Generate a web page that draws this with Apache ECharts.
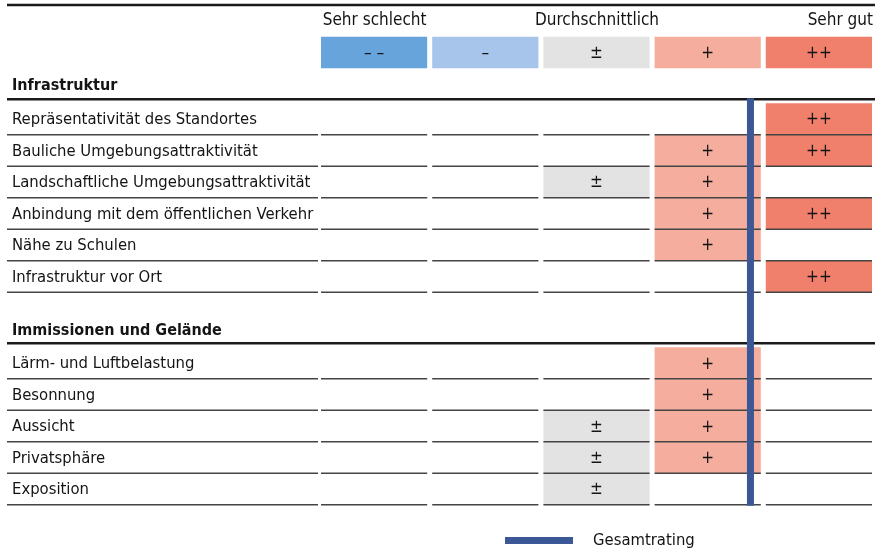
<!DOCTYPE html>
<html><head><meta charset="utf-8">
<script src="https://cdn.jsdelivr.net/npm/echarts@6/dist/echarts.min.js"></script>
<style>html,body{margin:0;padding:0;background:#fff}#c{width:875px;height:553px}</style>
</head><body><div id="c"></div>
<script>
// ---------- data ----------
const scaleTitles = ['Sehr schlecht', '', 'Durchschnittlich', '', 'Sehr gut'];
const scaleSymbols = ['– –', '–', '±', '+', '++'];
const groupTitles = ['Infrastruktur', 'Immissionen und Gelände'];
const infraCriteria = [
  'Repräsentativität des Standortes',
  'Bauliche Umgebungsattraktivität',
  'Landschaftliche Umgebungsattraktivität',
  'Anbindung mit dem öffentlichen Verkehr',
  'Nähe zu Schulen',
  'Infrastruktur vor Ort'
];
const infraRatings = [[5], [4, 5], [3, 4], [4, 5], [4], [5]];
const immiCriteria = [
  'Lärm- und Luftbelastung',
  'Besonnung',
  'Aussicht',
  'Privatsphäre',
  'Exposition'
];
const immiRatings = [[4], [4], [3, 4], [3, 4], [3]];
const overallRating = 4.38;
const legendLabel = 'Gesamtrating';

// ---------- style / layout ----------
const scaleColors = ['#68a4dc', '#a7c4ea', '#e3e3e3', '#f5ae9d', '#f07f6b'];
const FONT = "'DejaVu Sans Condensed', 'Liberation Sans', sans-serif";
const FS = 16;
const TXT = '#141414';
const GROUP_GAP = 1.75;
const SCALE_V = -2.11;
const TITLE_V = -3.12;
const LABEL_X = 12;

const rows = [];
const groupStart = [];
[[infraCriteria, infraRatings], [immiCriteria, immiRatings]].forEach(([crit, rat], g) => {
  crit.forEach((label, i) => {
    const v = rows.length + g * GROUP_GAP;
    if (i === 0) groupStart.push(v);
    rows.push({ label, ratings: rat[i], v });
  });
});
const lastV = rows[rows.length - 1].v;

function cellRender(params, api) {
  const col = api.value(0), v = api.value(1);
  const x0 = api.coord([col - 0.5, v])[0] + 2;
  const x1 = api.coord([col + 0.5, v])[0] - 3;
  const ya = api.coord([col, v - 0.5])[1];
  const yb = api.coord([col, v + 0.5])[1];
  const y0 = Math.min(ya, yb), y1 = Math.max(ya, yb);
  return {
    type: 'group',
    children: [
      { type: 'rect', shape: { x: x0, y: y0, width: x1 - x0, height: y1 - y0 }, style: { fill: scaleColors[col - 1] } },
      { type: 'text', style: { text: scaleSymbols[col - 1], x: (x0 + x1) / 2, y: (y0 + y1) / 2 + 1, align: 'center', verticalAlign: 'middle', fontSize: 17, fontFamily: FONT, fill: TXT } }
    ]
  };
}

const chart = echarts.init(document.getElementById('c'), null, { renderer: 'canvas' });
chart.setOption({
  animation: false,
  backgroundColor: '#fff',
  grid: { left: 319, width: 560, top: 0, height: 553 },
  xAxis: { type: 'value', min: 0.5, max: 5.5, show: false },
  yAxis: { type: 'value', min: -3.78, max: 13.78, inverse: true, show: false },
  legend: {
    data: [legendLabel], left: 505, top: 532, padding: 0, icon: 'rect',
    itemWidth: 68, itemHeight: 7,
    textStyle: { fontSize: 16.5, fontFamily: FONT, color: TXT, padding: [0, 0, 0, 15] }
  },
  series: [
    { type: 'custom', name: 'scale', z: 1, data: scaleSymbols.map((s, i) => [i + 1, SCALE_V]), renderItem: cellRender },
    {
      type: 'custom', name: 'titles', z: 1,
      data: scaleTitles.map((t, i) => [i + 1, TITLE_V]),
      renderItem(params, api) {
        const col = api.value(0), v = api.value(1);
        const t = scaleTitles[params.dataIndex];
        const c = api.coord([col, v]);
        const right = api.coord([col + 0.5, v])[0] - 2;
        const last = params.dataIndex === scaleTitles.length - 1;
        const children = [];
        if (t) children.push({ type: 'text', style: { text: t, x: last ? right : c[0], y: c[1], align: last ? 'right' : 'center', verticalAlign: 'middle', fontSize: 17, fontFamily: FONT, fill: TXT } });
        if (params.dataIndex === 0) {
          const yTop = api.coord([col, v - 0.5])[1];
          children.push({ type: 'line', shape: { x1: 7, y1: yTop, x2: 875, y2: yTop }, style: { stroke: '#1a1a1a', lineWidth: 2.5 } });
        }
        return { type: 'group', children };
      }
    },
    {
      type: 'custom', name: 'groups', z: 2,
      data: groupTitles.map((t, g) => [1, groupStart[g]]),
      renderItem(params, api) {
        const v = api.value(1);
        const yl = api.coord([1, v - 0.5])[1] - 4;
        return {
          type: 'group', children: [
            { type: 'line', shape: { x1: 7, y1: yl, x2: 875, y2: yl }, style: { stroke: '#1a1a1a', lineWidth: 2.5 } },
            { type: 'text', style: { text: groupTitles[params.dataIndex], x: LABEL_X, y: yl - 13, verticalAlign: 'middle', fontSize: FS, fontWeight: 'bold', fontFamily: FONT, fill: TXT } }
          ]
        };
      }
    },
    {
      type: 'custom', name: 'cells', z: 1,
      data: rows.flatMap(r => r.ratings.map(c => [c, r.v])),
      renderItem: cellRender
    },
    {
      type: 'custom', name: 'rows', z: 2,
      data: rows.map(r => [1, r.v]),
      renderItem(params, api) {
        const v = api.value(1);
        const yc = api.coord([1, v])[1];
        const yb = api.coord([1, v + 0.5])[1];
        const children = [
          { type: 'text', style: { text: rows[params.dataIndex].label, x: LABEL_X, y: yc + 1, verticalAlign: 'middle', fontSize: 16.5, fontFamily: FONT, fill: TXT } },
          { type: 'line', shape: { x1: 7, y1: yb, x2: api.coord([0.5, v])[0] - 1, y2: yb }, style: { stroke: '#444', lineWidth: 1.5 } }
        ];
        for (let c = 1; c <= 5; c++) {
          const x0 = api.coord([c - 0.5, v])[0] + 2;
          const x1 = api.coord([c + 0.5, v])[0] - 3;
          children.push({ type: 'line', shape: { x1: x0, y1: yb, x2: x1, y2: yb }, style: { stroke: '#444', lineWidth: 1.5 } });
        }
        return { type: 'group', children };
      }
    },
    {
      type: 'custom', name: legendLabel, z: 5,
      itemStyle: { color: '#3c5796' },
      data: [[overallRating, 0]],
      renderItem(params, api) {
        const x = api.coord([api.value(0), 0])[0];
        const yTop = api.coord([x, groupStart[0] - 0.5])[1] - 5;
        const yBot = api.coord([x, lastV + 0.5])[1] + 1;
        return { type: 'rect', shape: { x: x - 3.5, y: yTop, width: 7, height: yBot - yTop }, style: { fill: '#3c5796' } };
      }
    }
  ]
});
</script></body></html>
